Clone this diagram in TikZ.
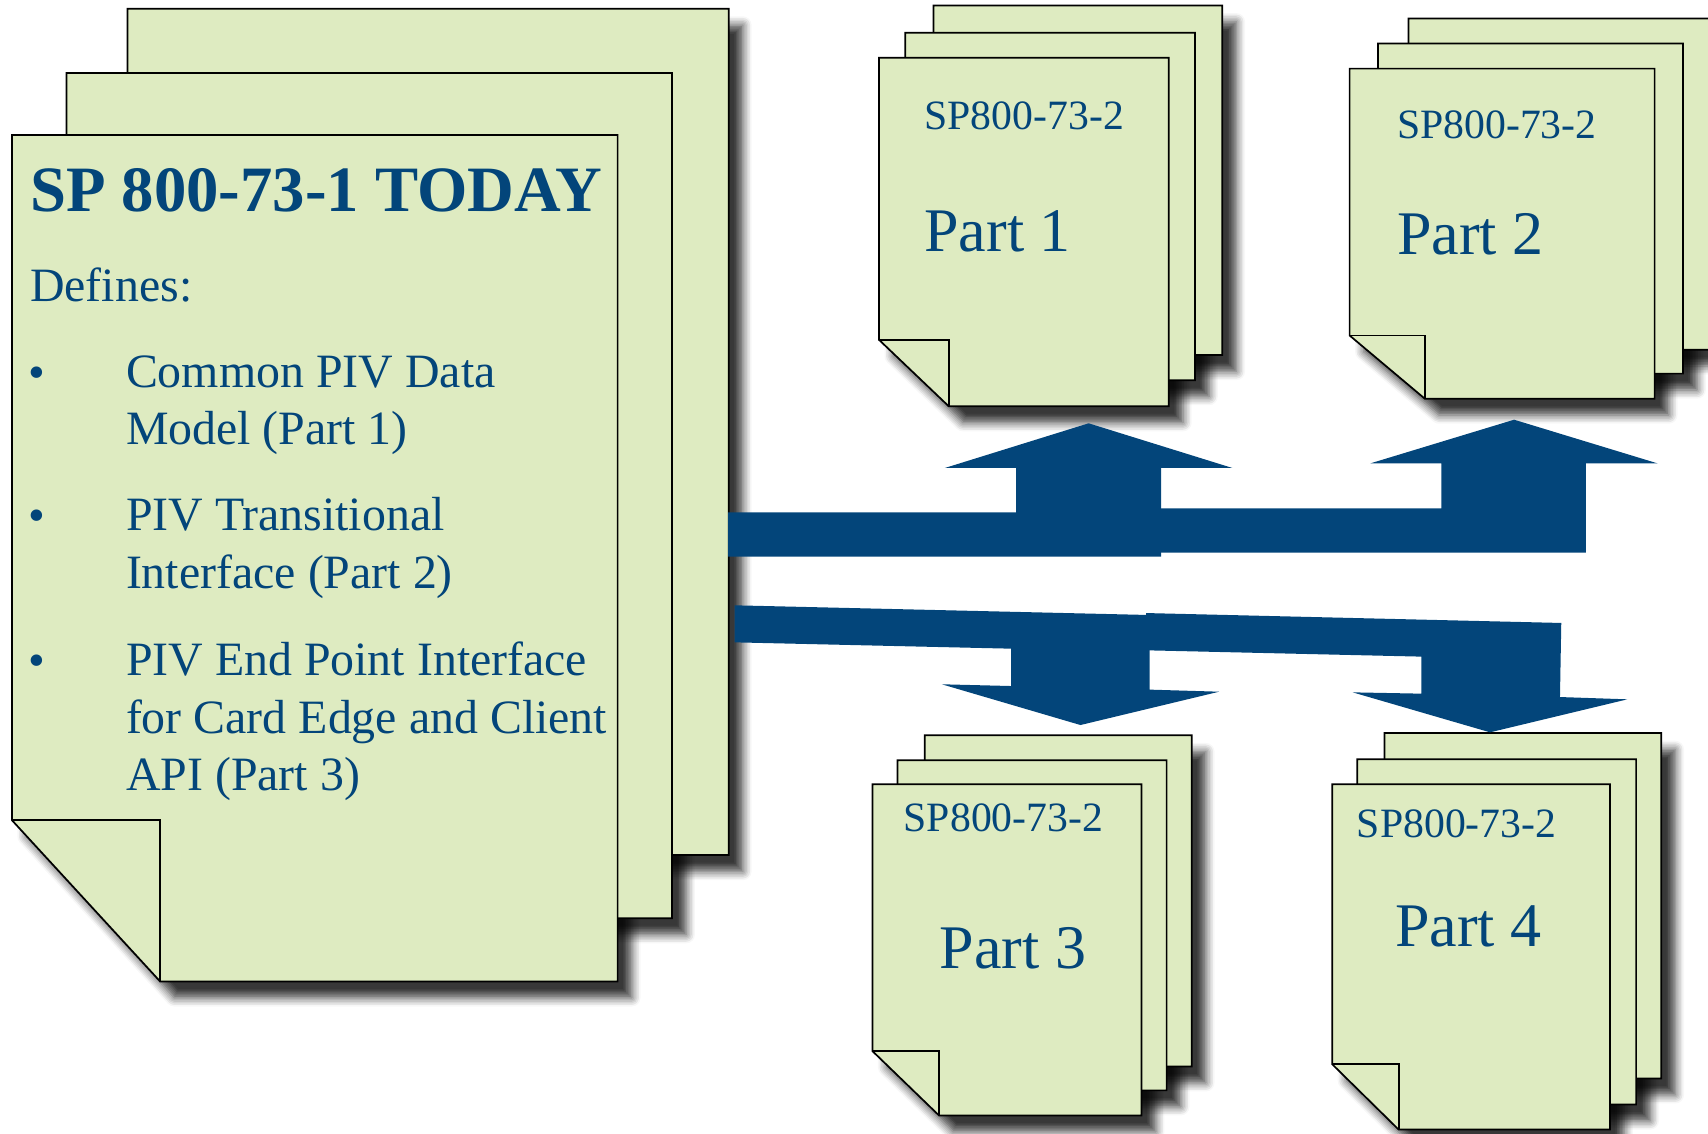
\documentclass[tikz,border=0pt]{standalone}
\usepackage{fontspec}
\setmainfont{Liberation Serif}
\usetikzlibrary{shadows.blur}
\definecolor{pivblue}{RGB}{3, 69, 122}
\definecolor{paper}{RGB}{222, 235, 193}

% one sheet of paper with its folded corner: [style]{x1}{y1}{x2}{y2}{fold dx}{fold dy}
\newcommand{\sheet}[7][sheet]{%
  \path[#1] (#2,#3) -- (#4,#3) -- (#4,#5) -- ({#2+#6},#5) -- (#2,{#5-#7}) -- cycle;
  \path[#1 fold] (#2,{#5-#7}) -- ({#2+#6},{#5-#7}) -- ({#2+#6},#5);}

\newcommand{\allsheets}[1]{%
  % SP 800-73-1
  \sheet[#1]{117}{8}{669}{785}{136}{148}
  \sheet[#1]{61}{67}{617}{843}{136}{148}
  \sheet[#1]{11}{124}{567}{901}{136}{148}
  % part 1
  \sheet[#1]{857}{5}{1122}{326}{64}{61}
  \sheet[#1]{831}{30}{1097}{349}{64}{61}
  \sheet[#1]{807}{53}{1073}{373}{64}{61}
  % part 2
  \sheet[#1]{1293}{17}{1573}{321}{69}{58}
  \sheet[#1]{1265}{40}{1545}{343}{69}{58}
  \sheet[#1]{1239}{63}{1519}{366}{69}{58}
  % part 3
  \sheet[#1]{849}{675}{1094}{979}{61}{59}
  \sheet[#1]{824}{698}{1071}{1001}{61}{59}
  \sheet[#1]{801}{720}{1048}{1024}{61}{59}
  % part 4
  \sheet[#1]{1271}{673}{1525}{990}{61}{60}
  \sheet[#1]{1246}{697}{1502}{1014}{61}{60}
  \sheet[#1]{1223}{720}{1478}{1037}{61}{60}
}

\begin{document}
\begin{tikzpicture}[x=0.1mm, y=-0.1mm,
    sheet/.style={fill=paper, draw=black, line width=0.45pt},
    sheet fold/.style={draw=black, line width=0.45pt},
    dropshade/.style={blur shadow={shadow xshift=1.3mm, shadow yshift=-1.5mm,
        shadow blur radius=0.8mm, shadow opacity=78, shadow blur steps=6}},
    dropshade fold/.style={},
    headline/.style={font=\bfseries\fontsize{16.9}{20}\selectfont, text=pivblue, anchor=base west, inner sep=0},
    body/.style={font=\fontsize{12.5}{15}\selectfont, text=pivblue, anchor=base west, inner sep=0, align=left},
    codetext/.style={font=\fontsize{10.9}{13}\selectfont, text=pivblue, anchor=base west, inner sep=0},
    partname/.style={font=\fontsize{16.2}{19}\selectfont, text=pivblue, anchor=base west, inner sep=0},
    bigarrow/.style={fill=pivblue},
  ]
  \useasboundingbox (0,0) rectangle (1568,1041);

  \allsheets{dropshade}
  \allsheets{sheet}

  \node[headline] (head) at (27,194) {SP 800-73-1 TODAY};
  \node[body] (defs) at (27,277) {Defines:};
  % multi-line nodes sit on their last line
  \node[body, anchor=base] (dot1) at (34,357) {•};
  \node[body] (item1) at (115,408) {Common PIV Data\\Model (Part 1)};
  \node[body, anchor=base] (dot2) at (34,488) {•};
  \node[body] (item2) at (115,540) {PIV Transitional\\Interface (Part 2)};
  \node[body, anchor=base] (dot3) at (34,621) {•};
  \node[body] (item3) at (115,726) {PIV End Point Interface\\for Card Edge and Client\\API (Part 3)};

  \node[codetext] (code1) at (848,119) {SP800-73-2};
  \node[partname] (part1) at (848,231) {Part 1};
  \node[codetext] (code2) at (1282,127) {SP800-73-2};
  \node[partname] (part2) at (1282,234) {Part 2};
  \node[codetext] (code3) at (829,763) {SP800-73-2};
  \node[partname] (part3) at (862,889) {Part 3};
  \node[codetext] (code4) at (1245,769) {SP800-73-2};
  \node[partname] (part4) at (1280,869) {Part 4};

  % block arrows
  \fill[bigarrow] (668.5,470.3) -- (932.9,470.3) -- (932.9,429.6) -- (867.5,429.6) -- (999.4,388.6)
    -- (1131.3,429.6) -- (1066,429.6) -- (1066,511) -- (668.5,511) -- cycle;
  \fill[bigarrow] (1066,466.7) -- (1323.3,466.7) -- (1323.3,425.4) -- (1258,425.4) -- (1390,385.3)
    -- (1521.7,425.4) -- (1455.8,425.4) -- (1455.8,507.4) -- (1066,507.4) -- cycle;
  \fill[bigarrow] (674.3,555.7) -- (1055.5,564.6) -- (1055.5,633.1) -- (1119.2,635.0) -- (991.9,665.6)
    -- (864.6,628.2) -- (928.3,629.8) -- (928.3,595.5) -- (674.3,589.7) -- cycle;
  \fill[bigarrow] (1052.1,562.8) -- (1433.3,571.9) -- (1432.1,639.9) -- (1494.0,642.0) -- (1367.9,672.3)
    -- (1241.8,635.6) -- (1304.9,636.8) -- (1304.9,602.8) -- (1052.1,597.0) -- cycle;
\end{tikzpicture}
\end{document}
